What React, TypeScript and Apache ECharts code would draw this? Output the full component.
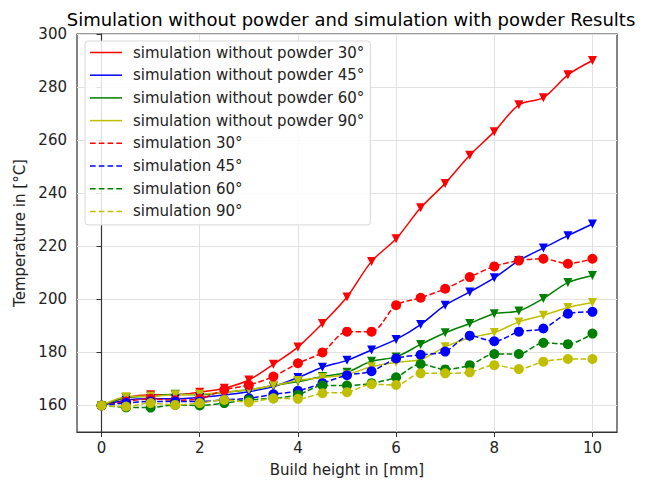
import React, { useEffect, useRef } from "react";
import * as echarts from "echarts";

const buildHeights = [0, 0.5, 1, 1.5, 2, 2.5, 3, 3.5, 4, 4.5, 5, 5.5, 6, 6.5, 7, 7.5, 8, 8.5, 9, 9.5, 10];

const noPowder30 = [160, 163, 164, 164, 165, 166.5, 169.6, 175.5, 182, 190.9, 200.9, 214.3, 222.8, 234.5, 243.7, 254.3, 263.2, 273.3, 276, 284.6, 290];
const noPowder45 = [160, 162, 162.5, 162.5, 163, 164, 165.2, 167.1, 170.5, 174.4, 177, 180.9, 184.9, 190.5, 197.8, 202.8, 208.1, 214.6, 219.3, 224, 228.4];
const noPowder60 = [160, 163, 163.5, 164.2, 164, 165, 165.9, 167.5, 169, 170.9, 172.5, 176.7, 178.3, 183, 187.4, 190.9, 194.6, 195.6, 200.3, 206.3, 209];
const noPowder90 = [160, 163.3, 163.5, 164, 164.2, 165, 165.9, 167.5, 169.4, 170.5, 171.7, 174.6, 176.3, 177.3, 182.1, 185.5, 187.5, 191.5, 194, 196.9, 198.8];
const powder30 = [160, 161.5, 162.5, 162, 162.5, 165.9, 167.7, 170.9, 175.9, 180, 187.8, 187.8, 197.8, 200.6, 204, 208.4, 212.4, 214.6, 215.3, 213.4, 215.3];
const powder45 = [160, 160.9, 161.5, 161.5, 161.5, 162.1, 162.7, 164.2, 165.5, 168.4, 171.4, 172.9, 177.7, 179.1, 180.3, 186.3, 184.2, 187.8, 189, 194.6, 195.3];
const powder60 = [160, 159.3, 159.2, 160.2, 160, 160.9, 162.1, 162.7, 164, 167.5, 167.5, 168.4, 170.6, 175.6, 173.6, 175.2, 179.4, 179.4, 183.6, 183.1, 187.1];
const powder90 = [160, 159.6, 160.9, 160.2, 160.9, 162.1, 161.2, 162.7, 162.5, 164.6, 165, 168, 167.7, 172.1, 172.1, 172.5, 175.2, 173.7, 176.5, 177.5, 177.5];

const xTicks = [0, 2, 4, 6, 8, 10];
const yTicks = [160, 180, 200, 220, 240, 260, 280, 300];

const seriesDefs = [
  { name: "simulation without powder 30°", values: noPowder30, color: "#ff0000", dashed: false },
  { name: "simulation without powder 45°", values: noPowder45, color: "#0000ff", dashed: false },
  { name: "simulation without powder 60°", values: noPowder60, color: "#008000", dashed: false },
  { name: "simulation without powder 90°", values: noPowder90, color: "#bfbf00", dashed: false },
  { name: "simulation 30°", values: powder30, color: "#ff0000", dashed: true },
  { name: "simulation 45°", values: powder45, color: "#0000ff", dashed: true },
  { name: "simulation 60°", values: powder60, color: "#008000", dashed: true },
  { name: "simulation 90°", values: powder90, color: "#bfbf00", dashed: true },
];

const FONT = "DejaVu Sans";
const solidIcon = "path://M0,0h32v1.5h-32z";
const dashedIcon = "path://M0,0h5.5v1.5h-5.5z M8.5,0h5.5v1.5h-5.5z M17,0h5.5v1.5h-5.5z M25.5,0h5.5v1.5h-5.5z";

export default function App() {
  const ref = useRef<HTMLDivElement>(null);
  useEffect(() => {
    if (!ref.current) return;
    const chart = echarts.init(ref.current, null, { renderer: "svg" });
    chart.setOption({
      animation: false,
      backgroundColor: "#ffffff",
      title: {
        text: "Simulation without powder and simulation with powder Results",
        left: 346,
        textAlign: "center",
        top: 5,
        textStyle: { fontFamily: FONT, fontSize: 18, fontWeight: "normal", color: "#000" },
      },
      legend: {
        orient: "vertical",
        left: 85,
        top: 41,
        padding: [4, 6, 6, 5],
        itemWidth: 32,
        itemHeight: 15,
        itemGap: 7.7,
        backgroundColor: "rgba(255,255,255,0.85)",
        borderColor: "#d8d8d8",
        borderWidth: 1,
        borderRadius: 3,
        textStyle: { fontFamily: FONT, fontSize: 15, lineHeight: 15, color: "#222", padding: [0, 0, 0, 6] },
        data: seriesDefs.map((s) => ({ name: s.name, icon: s.dashed ? dashedIcon : solidIcon })),
      },
      grid: {
        left: 77,
        right: 29,
        top: 34,
        bottom: 49,
        show: true,
        borderColor: "#333",
        borderWidth: 1.2,
        backgroundColor: "transparent",
      },
      xAxis: {
        type: "value",
        min: -0.5,
        max: 10.5,
        interval: 0.5,
        name: "Build height in [mm]",
        nameLocation: "middle",
        nameGap: 30,
        nameTextStyle: { fontFamily: FONT, fontSize: 15, color: "#222" },
        axisLine: { show: true, lineStyle: { color: "#333", width: 1.2 } },
        axisTick: { show: true, length: 5, customValues: xTicks, lineStyle: { color: "#333" } },
        axisLabel: { customValues: xTicks, margin: 8, fontFamily: FONT, fontSize: 15, color: "#222" },
        splitLine: { show: true, lineStyle: { color: "#e2e2e2", width: 1 } },
      },
      yAxis: {
        type: "value",
        min: 150,
        max: 300,
        interval: 10,
        name: "Temperature in [°C]",
        nameLocation: "middle",
        nameGap: 47,
        nameTextStyle: { fontFamily: FONT, fontSize: 15, color: "#222" },
        axisLine: { show: true, lineStyle: { color: "#333", width: 1.2 } },
        axisTick: { show: true, length: 5, customValues: yTicks, lineStyle: { color: "#333" } },
        axisLabel: { customValues: yTicks, margin: 10, fontFamily: FONT, fontSize: 15, color: "#222" },
        splitLine: { show: true, lineStyle: { color: "#e2e2e2", width: 1 } },
      },
      series: seriesDefs.map((s) => ({
        name: s.name,
        type: "line",
        smooth: 0.3,
        data: buildHeights.map((x, i) => [x, s.values[i]]),
        symbol: s.dashed ? "circle" : "triangle",
        symbolRotate: s.dashed ? 0 : 180,
        symbolSize: s.dashed ? 10 : 9,
        itemStyle: { color: s.color },
        lineStyle: { color: s.color, width: 1.5, type: s.dashed ? [5.5, 2.5] : "solid" },
        emphasis: { disabled: true },
      })),
    });
    return () => chart.dispose();
  }, []);
  return (
    <div
      ref={ref}
      style={{ position: "absolute", left: 0, top: 0, width: 646, height: 482 }}
    />
  );
}
